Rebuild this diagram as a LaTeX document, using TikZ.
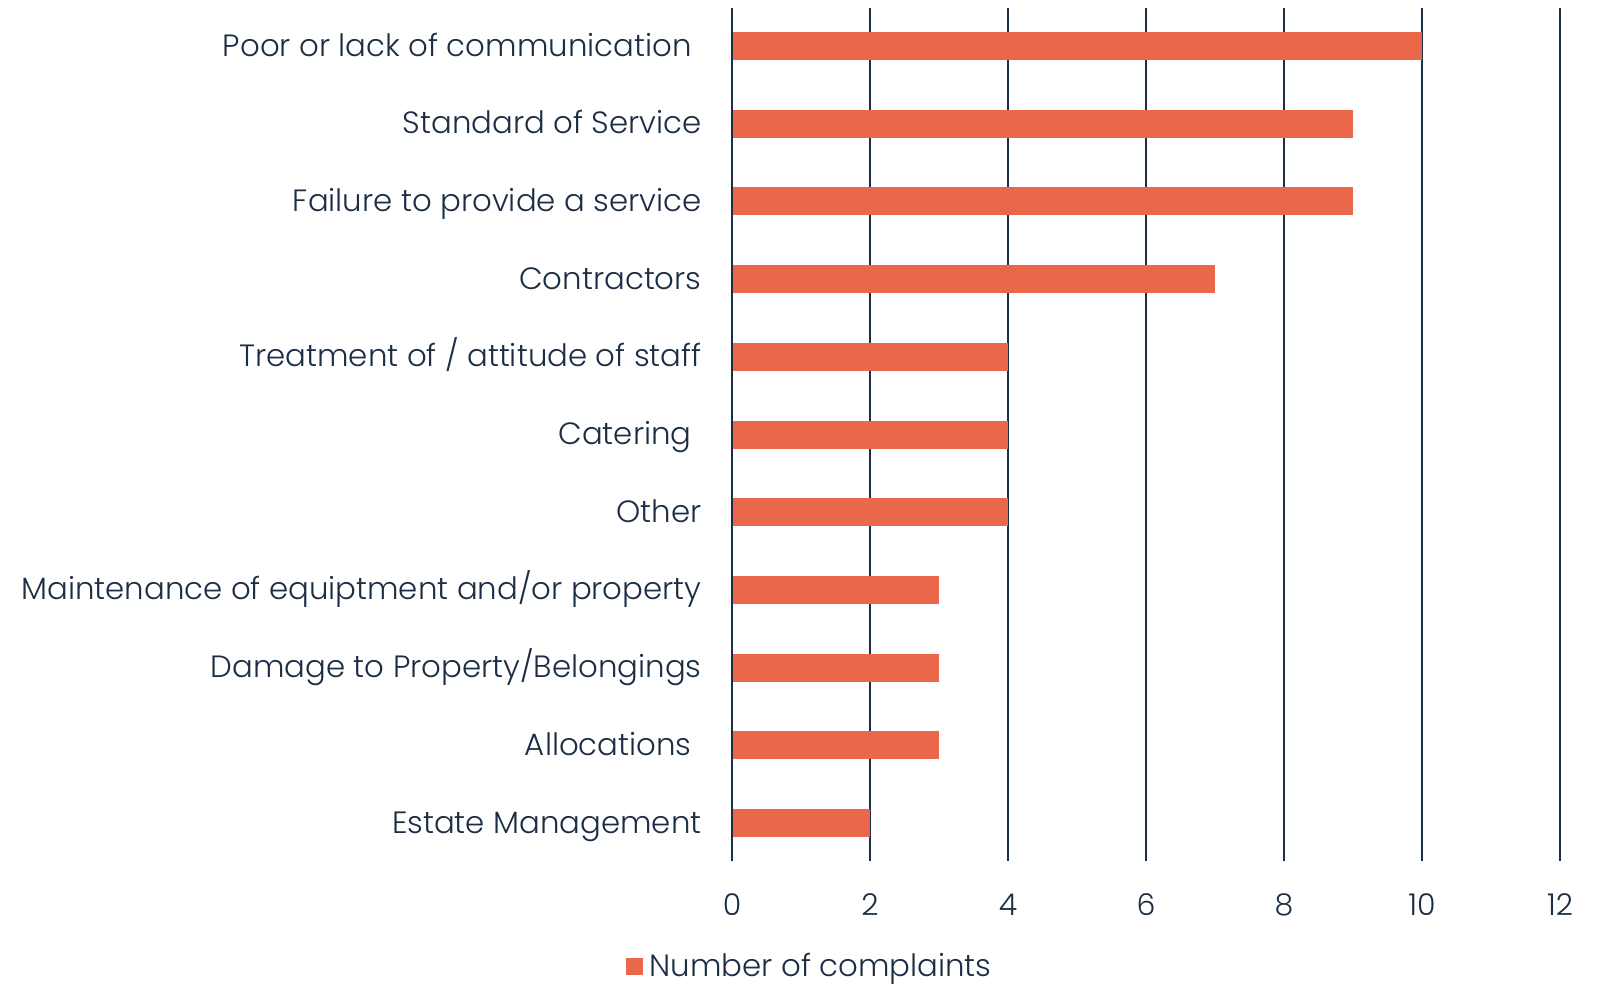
\documentclass[tikz,border=0pt]{standalone}
\usepackage{fontspec}
\setmainfont{Poppins}[UprightFont=* Light]
\usepackage{tikz}
\definecolor{barcol}{HTML}{EB6749}
\definecolor{inkcol}{HTML}{1C2E45}

\begin{document}
\begin{tikzpicture}
[x=0.5pt, y=-0.5pt,
bar/.style={fill=barcol, draw=none},
gridline/.style={draw=inkcol, line width=1pt},
catlabel/.style={anchor=base east, text=inkcol, inner sep=0pt, font=\fontsize{15.4}{17}\selectfont},
ticklabel/.style={anchor=base, text=inkcol, inner sep=0pt, font=\fontsize{15}{17}\selectfont},
]
\useasboundingbox (0,0) rectangle (1601,985);

% vertical grid and axis values
\foreach \v in {0,2,...,12} {
  \draw[gridline] (732+69*\v,8) -- (732+69*\v,861);
  \node[ticklabel] (tick\v) at (732+69*\v,915) {\v};
}

% bars, top to bottom
\foreach \name/\val [count=\i from 0] in {
  {Poor or lack of communication\kern5pt}/10,
  {Standard of Service}/9,
  {Failure to provide a service}/9,
  {Contractors}/7,
  {Treatment of / attitude of staff}/4,
  {Catering\kern5pt}/4,
  {Other}/4,
  {Maintenance of equiptment and/or property}/3,
  {Damage to Property/Belongings}/3,
  {Allocations\kern5pt}/3,
  {Estate Management}/2} {
  \fill[bar] (733,46+77.7*\i-14) rectangle (732+69*\val,46+77.7*\i+14);
  \node[catlabel] (cat\i) at (702,46+77.7*\i+10) {\name};
}

% legend
\node[fill=barcol, minimum size=8.5pt, inner sep=0pt] (key) at (634.5,966) {};
\node[anchor=base west, text=inkcol, inner sep=0pt, font=\fontsize{15.4}{17}\selectfont] (keytext) at ([xshift=3pt, yshift=-5pt]key.east) {Number of complaints};
\end{tikzpicture}
\end{document}
